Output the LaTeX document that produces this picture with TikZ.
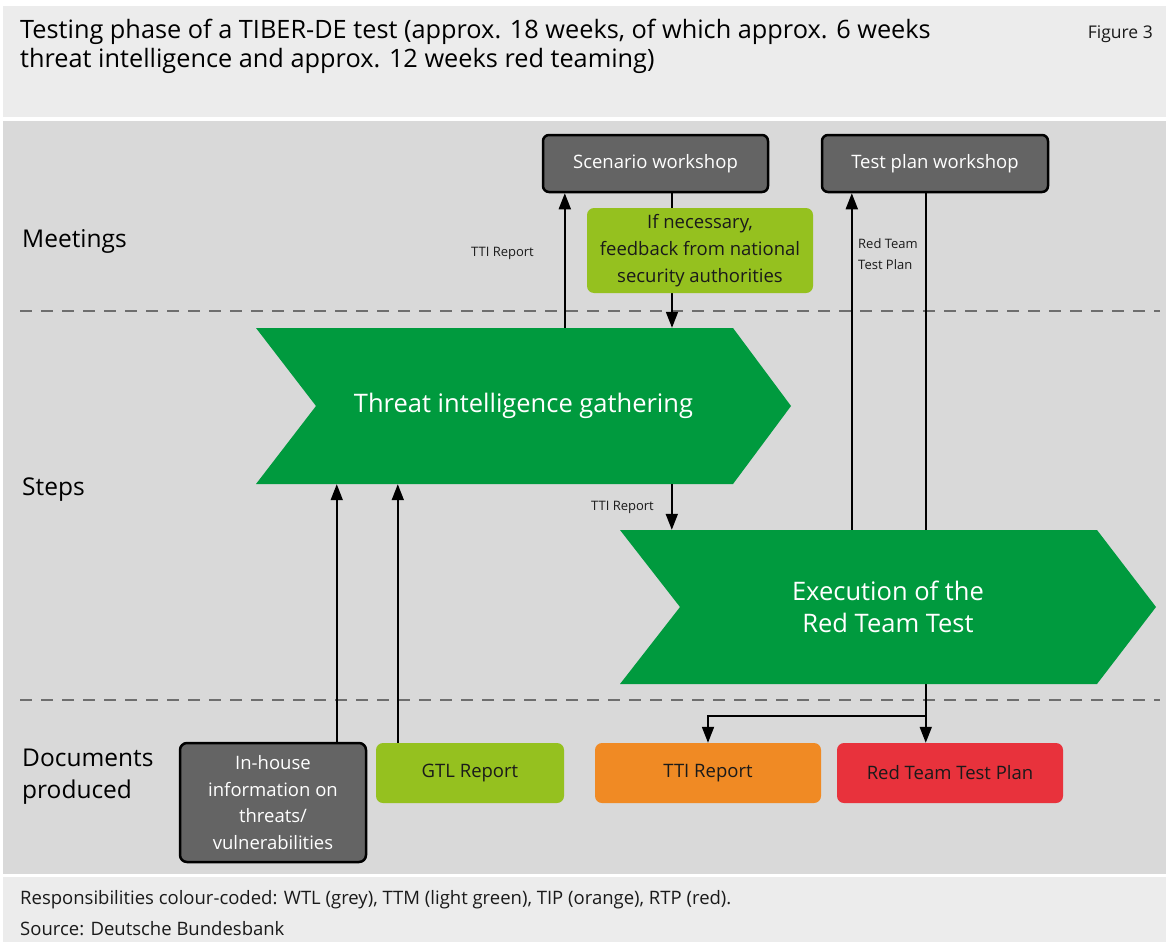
\documentclass[tikz,border=0pt]{standalone}
\usepackage{fontspec}
\setmainfont{Open Sans}
\usetikzlibrary{arrows.meta,calc}
\pgfdeclarelayer{bg}\pgfdeclarelayer{behind}
\pgfsetlayers{bg,behind,main}
\definecolor{hdr}{HTML}{ECECEC}
\definecolor{panel}{HTML}{D9D9D9}
\definecolor{dkgrey}{HTML}{646464}
\definecolor{dashgrey}{HTML}{6E6E6E}
\definecolor{chev}{HTML}{009A3E}
\definecolor{lgreen}{HTML}{95C11F}
\definecolor{orng}{HTML}{F08A24}
\definecolor{rd}{HTML}{E8323C}
\definecolor{txt}{HTML}{1A1A1A}
\newcommand{\fsl}[2]{\fontsize{#1pt}{#2pt}\selectfont}
\tikzset{
  wsbox/.style={draw=black, line width=2.5pt, fill=dkgrey, rounded corners=6pt, text=white, font=\fsl{18.5}{26.5}, inner sep=0pt, align=center},
  docbox/.style={rounded corners=7pt, text=txt, font=\fsl{18.5}{27}, inner sep=0pt, align=center},
  arr/.style={draw=black, line width=1.8pt, -{Triangle[length=16pt,width=12pt]}},
  small/.style={font=\fsl{13}{21}, text=txt, inner sep=0pt},
  rowlab/.style={font=\fsl{24.5}{32}, text=black, anchor=base west, inner sep=0pt, align=left},
  chevtxt/.style={text=white, font=\fsl{25.5}{32}, inner sep=0pt, align=center},
  sep/.style={draw=dashgrey, line width=2.5pt, dash pattern=on 12pt off 9pt}
}
\begin{document}
\begin{tikzpicture}[x=1pt,y=-1pt]
\useasboundingbox (0,0) rectangle (1166,942);
\begin{pgfonlayer}{bg}
\fill[white] (0,0) rectangle (1166,942);
\fill[hdr] (3,6) rectangle (1166,117);
\fill[panel] (3,121) rectangle (1166,874);
\fill[hdr] (3,877) rectangle (1166,942);
\draw[sep] (20,311) -- (1160,311);
\draw[sep] (20,700) -- (1160,700);
\end{pgfonlayer}

% header
\node[anchor=base west, inner sep=0pt, font=\fsl{25.3}{28}, text=black] (title) at (20,39)
  {Testing phase of a TIBER-DE test (approx. 18 weeks, of which approx. 6 weeks};
\node[anchor=base west, inner sep=0pt, font=\fsl{25.3}{28}, text=black] (title2) at (20,67)
  {threat intelligence and approx. 12 weeks red teaming)};
\node[anchor=base east, inner sep=0pt, font=\fsl{17.5}{20}, text=txt] (fig) at (1153,39) {Figure 3};

% row labels
\node[rowlab] (meet) at (22,247) {Meetings};
\node[rowlab] (steps) at (22,495) {Steps};
\node[rowlab] (docs) at (22,766) {Documents};
\node[rowlab] (docs2) at (22,798) {produced};

% meetings
\node[wsbox, minimum width=225pt, minimum height=57pt] (sw) at (655.5,163.5) {Scenario workshop};
\node[wsbox, minimum width=226pt, minimum height=57pt] (tpw) at (935,163.5) {Test plan workshop};
\node[docbox, fill=lgreen, minimum width=226pt, minimum height=85pt] (fb) at (700,250.5)
  {\raisebox{-3pt}{If necessary,}\\\raisebox{-3pt}{feedback from national}\\\raisebox{-3pt}{security authorities}};

% chevrons
\fill[chev] (256,328) -- (733,328) -- (791,406) -- (733,484) -- (256,484) -- (316,406) -- cycle;
\node[chevtxt, minimum width=535pt, minimum height=156pt] (tig) at (523.5,406) {Threat intelligence gathering};
\fill[chev] (620,530) -- (1097,530) -- (1156,607) -- (1097,684) -- (620,684) -- (680,607) -- cycle;
\node[chevtxt, minimum width=536pt, minimum height=154pt] (ex) at (888,607) {Execution of the\\Red Team Test};

% documents
\node[wsbox, rounded corners=7pt, minimum width=186pt, minimum height=119pt] (inh) at (273,802.5)
  {In-house\\information on\\threats/\\vulnerabilities};
\node[docbox, fill=lgreen, minimum width=188pt, minimum height=60pt] (gtl) at (470,773) {GTL Report};
\node[docbox, fill=orng, minimum width=226pt, minimum height=60pt] (tti) at (708,773) {TTI Report};
\node[docbox, fill=rd, minimum width=226pt, minimum height=60pt] (rtp) at (950,773) {Red Team Test Plan};

% connectors
\coordinate (p1) at ($(tig.north west)+(309,0)$);
\draw[arr] (p1) -- (p1 |- sw.south);
\node[small, anchor=east] (l1) at (534,253) {TTI Report};

\coordinate (p2) at ($(sw.south)+(16.5,0)$);
\begin{pgfonlayer}{behind}
\draw[arr] (p2) -- (p2 |- tig.north);
\end{pgfonlayer}

\coordinate (p3) at ($(tig.south west)+(416,0)$);
\draw[arr] (p3) -- (p3 |- ex.north);
\node[small, anchor=east] (l3) at (654,507) {TTI Report};

\coordinate (p4) at ($(ex.north west)+(232,0)$);
\draw[arr] (p4) -- (p4 |- tpw.south);
\node[small, anchor=base west, align=left] (l4) at (858,269) {Red Team\\Test Plan};

\coordinate (p5) at ($(tpw.south west)+(105,0)$);
\begin{pgfonlayer}{behind}
\draw[arr] (p5) -- (p5 |- rtp.north);
\end{pgfonlayer}
\coordinate (br) at ($(p5 |- rtp.north)+(0,-27)$);
\draw[arr] (br) -| (tti.north);

\coordinate (p6) at ($(inh.north west)+(158,0)$);
\draw[arr] (p6) -- (p6 |- tig.south);
\coordinate (p7) at ($(gtl.north west)+(22,0)$);
\draw[arr] (p7) -- (p7 |- tig.south);

% footer
\node[anchor=base west, inner sep=0pt, font=\fsl{18.5}{20}, text=txt] (note) at (20,904)
  {Responsibilities colour-coded: WTL (grey), TTM (light green), TIP (orange), RTP (red).};
\node[anchor=base west, inner sep=0pt, font=\fsl{18.5}{20}, text=txt] (src) at (20,935) {Source: Deutsche Bundesbank};
\end{tikzpicture}
\end{document}
